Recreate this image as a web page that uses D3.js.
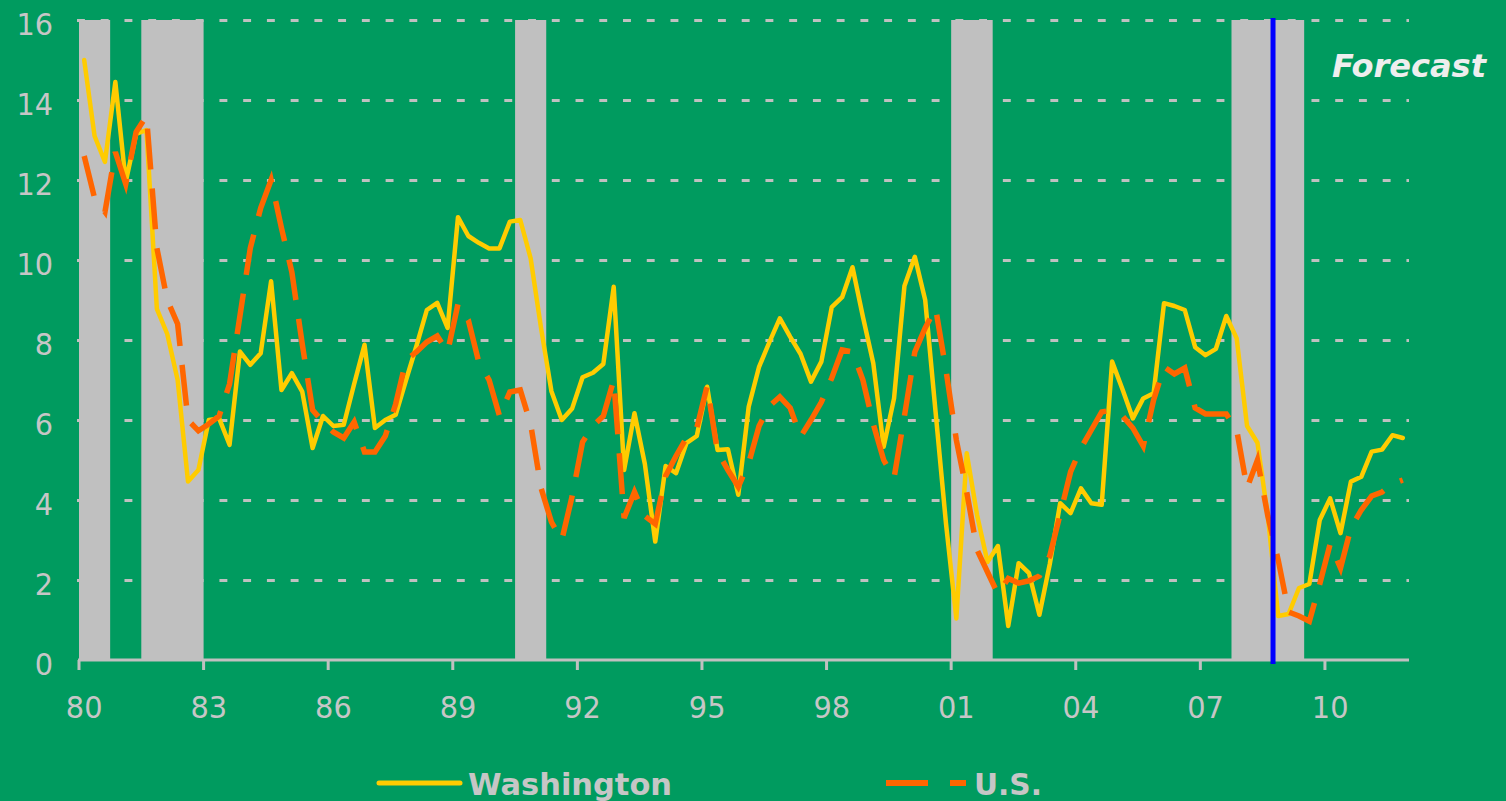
<!DOCTYPE html>
<html><head><meta charset="utf-8">
<script src="https://cdn.jsdelivr.net/npm/d3@7"></script>
<style>html,body{margin:0;padding:0;background:#009B5F;overflow:hidden}svg{display:block}</style>
</head><body>
<svg id="chart" width="1506" height="801"></svg>
<script>
// ---------- data ----------
const startYear = 1980;
const quarterCount = 128;
const quarters = d3.range(quarterCount).map(i => `${startYear + Math.floor(i / 4)}Q${i % 4 + 1}`);
const tickQuarters = ["1980Q1","1983Q1","1986Q1","1989Q1","1992Q1","1995Q1","1998Q1","2001Q1","2004Q1","2007Q1","2010Q1"];
const tickLabels = ["80","83","86","89","92","95","98","01","04","07","10"];
const yTicks = [0, 2, 4, 6, 8, 10, 12, 14, 16];

const washington = [
  15.0, 13.1, 12.45, 14.45, 11.95, 13.15, 13.25, 8.78,
  8.15, 7.0, 4.46, 4.75, 6.0, 6.04, 5.38, 7.71,
  7.38, 7.67, 9.47, 6.75, 7.17, 6.71, 5.3, 6.1,
  5.85, 5.88, 6.9, 7.88, 5.8, 6.0, 6.13, 7.0,
  7.85, 8.75, 8.93, 8.3, 11.07, 10.6, 10.43, 10.29,
  10.29, 10.96, 11.0, 10.04, 8.3, 6.72, 6.0, 6.29,
  7.07, 7.18, 7.4, 9.33, 4.75, 6.17, 4.9, 2.96,
  4.85, 4.67, 5.42, 5.6, 6.83, 5.25, 5.27, 4.13,
  6.33, 7.33, 7.95, 8.54, 8.08, 7.65, 6.96, 7.46,
  8.82, 9.07, 9.82, 8.58, 7.42, 5.33, 6.54, 9.35,
  10.08, 9.0, 6.2, 3.42, 1.04, 5.17, 3.62, 2.45,
  2.85, 0.85, 2.42, 2.17, 1.13, 2.4, 3.92, 3.67,
  4.29, 3.92, 3.88, 7.46, 6.77, 6.04, 6.54, 6.67,
  8.92, 8.85, 8.75, 7.82, 7.62, 7.78, 8.6, 8.04,
  5.85, 5.43, 3.6, 1.1, 1.15, 1.8, 1.9, 3.5,
  4.04, 3.17, 4.46, 4.58, 5.21, 5.26, 5.62, 5.55
];

const us = [
  12.6, 11.55, 11.2, 12.7, 11.9, 13.2, 13.6, 10.3,
  9.0, 8.4, 6.0, 5.73, 5.9, 6.1, 6.9, 8.6,
  10.3, 11.3, 12.0, 10.8, 9.7, 7.9, 6.25, 5.95,
  5.7, 5.55, 5.95, 5.2, 5.2, 5.6, 6.4, 7.5,
  7.7, 7.95, 8.1, 7.7, 8.9, 8.5, 7.45, 7.0,
  6.1, 6.7, 6.75, 5.9, 4.3, 3.45, 3.0, 4.1,
  5.45, 5.85, 6.1, 7.0, 3.55, 4.2, 3.6, 3.4,
  4.6, 5.1, 5.55, 5.8, 6.85, 5.2, 4.75, 4.33,
  4.92, 5.85, 6.35, 6.58, 6.3, 5.58, 6.0, 6.45,
  7.05, 7.75, 7.7, 7.0, 5.9, 5.0, 4.55, 6.1,
  7.7, 8.3, 8.8, 7.25, 5.5, 4.2, 2.75, 2.2,
  1.65, 2.04, 1.92, 1.98, 2.1, 2.6, 3.65, 4.7,
  5.3, 5.75, 6.2, 6.25, 6.1, 5.8, 5.35, 6.5,
  7.33, 7.15, 7.3, 6.3, 6.15, 6.15, 6.15, 5.75,
  4.3, 5.0, 3.6, 2.5, 1.2, 1.1, 0.97, 1.9,
  2.9, 2.3, 3.3, 3.75, 4.1, 4.2, 4.4, 4.5
];

const recessions = [
  ["1980Q1", "1980Q3"],
  ["1981Q3", "1982Q4"],
  ["1990Q3", "1991Q1"],
  ["2001Q1", "2001Q4"],
  ["2007Q4", "2009Q2"]
];
const forecastStart = "2008Q4";
const seriesNames = ["Washington", "U.S."];

// ---------- drawing ----------
const W = 1506, H = 801;
const svg = d3.select("#chart");
const gray = "#C0C0C0", textGray = "#C6C6C6";

svg.append("rect").attr("width", W).attr("height", H).attr("fill", "#009B5F");

const x = d3.scaleBand().domain(quarters).range([79, 1408]).padding(0);
const bw = x.bandwidth();
const y = d3.scaleLinear().domain([0, 16]).range([660, 20]);

// recession bars
svg.append("g").selectAll("rect").data(recessions).join("rect")
  .attr("x", d => x(d[0]))
  .attr("width", d => x(d[1]) + bw - x(d[0]))
  .attr("y", y(16))
  .attr("height", y(0) - y(16))
  .attr("fill", gray);

// gridlines
svg.append("g").selectAll("line").data(yTicks.filter(v => v > 0)).join("line")
  .attr("x1", 77).attr("x2", 1409)
  .attr("y1", d => y(d) + 0.5).attr("y2", d => y(d) + 0.5)
  .attr("stroke", gray).attr("stroke-width", 3)
  .attr("stroke-dasharray", "7.9,15.84");

// y axis labels
const yAxis = svg.append("g").attr("transform", "translate(53,0)")
  .call(d3.axisLeft(y).tickValues(yTicks).tickSize(0).tickPadding(0).tickFormat(d3.format("d")));
yAxis.select(".domain").remove();
yAxis.selectAll("text")
  .attr("x", 0).attr("dy", 14.5)
  .attr("font-family", "'DejaVu Sans', Verdana, sans-serif")
  .attr("font-size", 31)
  .attr("fill", textGray)
  .attr("textLength", d => 18.3 * String(d).length)
  .attr("lengthAdjust", "spacingAndGlyphs");

// x axis
const xAxis = svg.append("g").attr("transform", `translate(0,${y(0)})`)
  .call(d3.axisBottom(x).tickValues(tickQuarters).tickSize(0).tickPadding(0)
        .tickFormat((d, i) => tickLabels[i]));
xAxis.select(".domain").remove();
xAxis.selectAll("text")
  .attr("y", 0).attr("dy", 58)
  .attr("font-family", "'DejaVu Sans', Verdana, sans-serif")
  .attr("font-size", 31)
  .attr("fill", textGray)
  .attr("textLength", d => 36.7)
  .attr("lengthAdjust", "spacingAndGlyphs");

svg.append("line").attr("x1", 78).attr("x2", 1409)
  .attr("y1", y(0)).attr("y2", y(0))
  .attr("stroke", gray).attr("stroke-width", 3);
svg.append("g").selectAll("line").data(tickQuarters).join("line")
  .attr("x1", d => x(d)).attr("x2", d => x(d))
  .attr("y1", y(0)).attr("y2", y(0) + 10)
  .attr("stroke", gray).attr("stroke-width", 3);

// series lines
const line = d3.line().x((d, i) => x(quarters[i]) + bw / 2).y(d => y(d));
svg.append("path").datum(washington).attr("d", line)
  .attr("fill", "none").attr("stroke", "#FFCC00").attr("stroke-width", 4.5)
  .attr("stroke-linejoin", "round").attr("stroke-linecap", "round");
svg.append("path").datum(us).attr("d", line)
  .attr("fill", "none").attr("stroke", "#FF6600").attr("stroke-width", 5.5)
  .attr("stroke-dasharray", "41,19");

// forecast marker
svg.append("line")
  .attr("x1", x(forecastStart)).attr("x2", x(forecastStart))
  .attr("y1", y(16) - 2).attr("y2", y(0) + 4)
  .attr("stroke", "#0000FF").attr("stroke-width", 5);

svg.append("text").attr("x", 1332).attr("y", 77)
  .attr("font-family", "'DejaVu Sans', Verdana, sans-serif")
  .attr("font-weight", "bold").attr("font-style", "italic")
  .attr("font-size", 32).attr("fill", "#EEEEEE")
  .attr("textLength", 154).attr("lengthAdjust", "spacingAndGlyphs")
  .text("Forecast");

// legend
const lg = svg.append("g");
lg.append("line").attr("x1", 379).attr("x2", 460).attr("y1", 783).attr("y2", 783)
  .attr("stroke", "#FFCC00").attr("stroke-width", 5).attr("stroke-linecap", "round");
lg.append("text").attr("x", 468).attr("y", 795).text(seriesNames[0])
  .attr("font-family", "'DejaVu Sans', Verdana, sans-serif").attr("font-weight", "bold")
  .attr("font-size", 30).attr("fill", textGray)
  .attr("textLength", 204).attr("lengthAdjust", "spacingAndGlyphs");
lg.append("line").attr("x1", 886).attr("x2", 966).attr("y1", 783).attr("y2", 783)
  .attr("stroke", "#FF6600").attr("stroke-width", 6).attr("stroke-dasharray", "42,22");
lg.append("text").attr("x", 974).attr("y", 795).text(seriesNames[1])
  .attr("font-family", "'DejaVu Sans', Verdana, sans-serif").attr("font-weight", "bold")
  .attr("font-size", 30).attr("fill", textGray)
  .attr("textLength", 68).attr("lengthAdjust", "spacingAndGlyphs");
</script>
</body></html>
